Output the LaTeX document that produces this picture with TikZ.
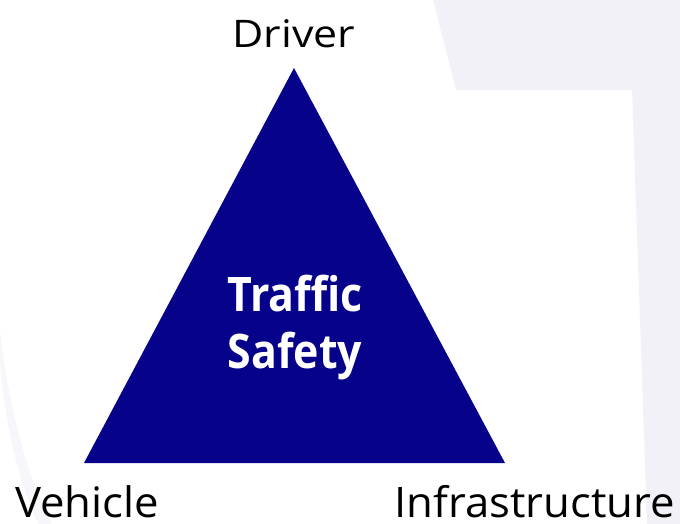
\documentclass[tikz,border=0pt]{standalone}
\usepackage{fontspec}
\setmainfont{Open Sans}
\newfontfamily\widefont[FakeStretch=1.13]{Open Sans}
\newfontfamily\basefont[FakeStretch=1.04]{Open Sans}
\newfontfamily\narrowfont[FakeStretch=0.9]{Open Sans Bold}
\definecolor{navy}{RGB}{6,2,138}
\definecolor{haze}{RGB}{242,241,248}
\newcommand{\toplbl}{\widefont\fontsize{38}{40}\selectfont}
\newcommand{\botlbl}{\basefont\fontsize{42}{44}\selectfont}
\newcommand{\ctr}{\narrowfont\fontsize{47.6}{57}\selectfont}

\begin{document}
\begin{tikzpicture}[x=1pt, y=-1pt, label/.style={inner sep=0pt, text depth=0pt}, core/.style={inner sep=0pt, align=center, text=white, font=\ctr}]
    % Background
    \useasboundingbox (0,0) rectangle (680,524);
    \fill[haze] (433,0) -- (456,90) -- (632,90) -- (647,524) -- (680,524) -- (680,0) -- cycle;
    \fill[haze!60] (0,330) .. controls (10,420) and (30,480) .. (52,524) -- (38,524) .. controls (18,480) and (4,420) .. (0,360) -- cycle;

    % Triangle
    \coordinate (top) at (294,68);
    \coordinate (left) at (84,463);
    \coordinate (right) at (505,463);
    \fill[navy] (top) -- (left) -- (right) -- cycle;

    % Labels
    \node[label, font=\toplbl, anchor=base] (driver) at (294,47.5) {Driver};
    \node[label, font=\botlbl, anchor=base west] (vehicle) at (15,517) {Vehicle};
    \node[label, font=\botlbl, anchor=base east] (infra) at (675,517) {Infrastructure};
    \node[core] (safety) at (295,328) {Traffic\\Safety};

\end{tikzpicture}
\end{document}
